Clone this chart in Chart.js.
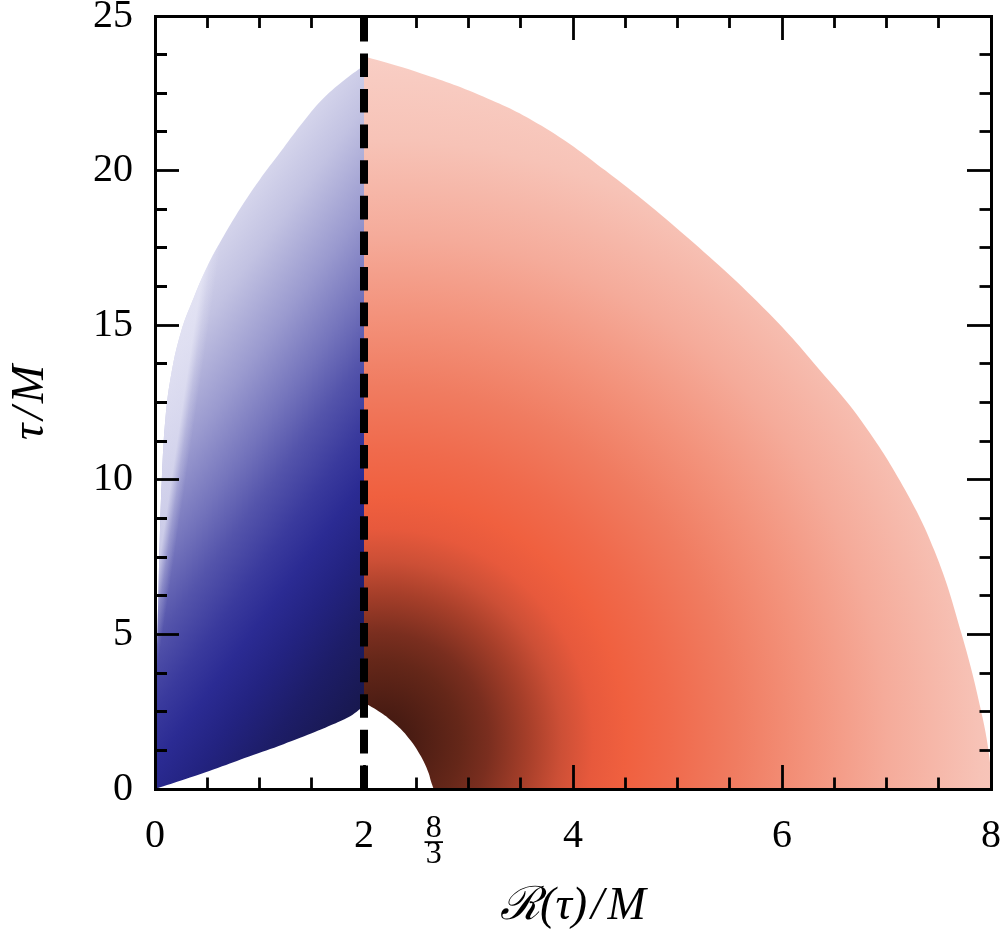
<!DOCTYPE html>
<html>
<head>
<meta charset="utf-8">
<script src="https://cdn.jsdelivr.net/npm/chart.js@4.4.1/dist/chart.umd.min.js"></script>
<style>
html,body{margin:0;padding:0;background:#ffffff;}
canvas{display:block;}
</style>
</head>
<body>
<canvas id="c" width="1000" height="948"></canvas>
<script>
// ---------------- data ----------------
const xRange = [0, 8];
const yRange = [0, 25];
const xMajorTicks = [0, 2, 4, 6, 8];
const yMajorTicks = [0, 5, 10, 15, 20, 25];
const xMinorStep = 0.5;
const yMinorStep = 1.25;
const fractionTickValue = 8 / 3;
const fractionTickLabel = ['8', '3'];
const fractionBarLabel = '\u2013';
const dividerX = 2;

// blue region: left/upper edge from the origin up to the divider
const blueLeftX = [0, 0.005, 0.015, 0.03, 0.045, 0.065, 0.1, 0.16, 0.25, 0.36, 0.5, 0.66, 0.82, 1.0, 1.2, 1.4, 1.6, 1.8, 2.0];
const blueLeftY = [0, 2, 4, 6, 8, 10, 12, 13.5, 14.8, 15.8, 16.9, 17.9, 18.8, 19.7, 20.6, 21.5, 22.3, 22.9, 23.4];
// blue region: lower edge from the origin to the divider
const blueLowerX = [0, 0.3, 0.6, 0.9, 1.23, 1.5, 1.71, 1.85, 1.93, 2.0];
const blueLowerY = [0, 0.33, 0.68, 1.05, 1.45, 1.8, 2.1, 2.32, 2.5, 2.7];

// red region: inner (hole) edge from R=8/3 on the axis up to the divider
const redInnerX = [2.667, 2.64, 2.62, 2.57, 2.52, 2.45, 2.35, 2.23, 2.1, 2.0];
const redInnerY = [0, 0.26, 0.5, 0.9, 1.2, 1.55, 1.95, 2.3, 2.6, 2.8];
// red region: outer edge from the divider down to R=8
const redOuterX = [2.0, 2.5, 3.14, 3.7, 4.31, 5.09, 5.87, 6.45, 6.76, 7.13, 7.46, 7.72, 7.92, 8.0, 8.0];
const redOuterY = [23.7, 23.2, 22.4, 21.45, 20.0, 17.85, 15.4, 13.2, 11.9, 9.96, 7.7, 5.0, 2.3, 0.6, 0];

// ---------------- build shapes ----------------
function pts(xs, ys) { return xs.map((x, i) => ({x: x, y: ys[i]})); }
const blueLeft = pts(blueLeftX, blueLeftY);
const blueLower = pts(blueLowerX, blueLowerY);
const blueShape = [...blueLeft, {...blueLeft[blueLeft.length - 1]},
  {...blueLower[blueLower.length - 1]}, ...blueLower.slice().reverse()];

const redInner = pts(redInnerX, redInnerY);
const redOuter = pts(redOuterX, redOuterY);
const redShape = [...redInner, {...redInner[redInner.length - 1]},
  {...redOuter[0]}, ...redOuter];

// ---------------- styles ----------------
const SERIF = "'Liberation Serif', 'Times New Roman', 'DejaVu Serif', serif";

function addStops(g, stops) { stops.forEach(s => g.addColorStop(s[0], s[1])); return g; }

function redFill(ctx) {
  const chart = ctx.chart;
  if (!chart.chartArea) return 'rgba(0,0,0,0)';
  const xs = chart.scales.x, ys = chart.scales.y;
  const cx = xs.getPixelForValue(2.16), cy = ys.getPixelForValue(1.55);
  const R = xs.getPixelForValue(2.16 + 6.9) - cx;
  const g = chart.ctx.createRadialGradient(cx, cy, 0, cx, cy, R);
  const k = 1 / 720;
  return addStops(g, [
    [0, '#3e170f'], [30 * k, '#4a1c13'], [80 * k, '#652719'], [108 * k, '#7a2e1f'],
    [148 * k, '#a73f2a'], [180 * k, '#cc4f36'], [212 * k, '#e7593c'], [245 * k, '#f0603f'],
    [290 * k, '#f06a4c'], [355 * k, '#f07c61'], [425 * k, '#f3927b'], [505 * k, '#f5ab9a'],
    [600 * k, '#f7c3b7'], [1, '#f9d3cb']
  ]);
}

function blueFill(ctx) {
  const chart = ctx.chart;
  if (!chart.chartArea) return 'rgba(0,0,0,0)';
  const xs = chart.scales.x, ys = chart.scales.y;
  const x0 = xs.getPixelForValue(0.833), y0 = ys.getPixelForValue(19.77);
  const x1 = xs.getPixelForValue(4.15), y1 = ys.getPixelForValue(11.54);
  const g = chart.ctx.createLinearGradient(x0, y0, x1, y1);
  return addStops(g, [
    [0, '#dcdcef'], [0.13, '#c2c2e2'], [0.27, '#9a9acf'], [0.385, '#7474bc'],
    [0.475, '#5454ab'], [0.57, '#3a3a9d'], [0.645, '#2b2b93'], [0.73, '#232381'],
    [0.83, '#1d1d68'], [0.93, '#191953'], [1, '#161645']
  ]);
}

function blueEdgeFill(ctx) {
  const chart = ctx.chart;
  if (!chart.chartArea) return 'rgba(0,0,0,0)';
  const xs = chart.scales.x, ys = chart.scales.y;
  const x0 = xs.getPixelForValue(-0.02), y0 = ys.getPixelForValue(6.0);
  const g = chart.ctx.createLinearGradient(x0, y0, x0 + 14 * 0.989, y0 + 14 * 0.148);
  return addStops(g, [
    [0, 'rgba(235,235,248,0.7)'], [0.5, 'rgba(235,235,248,0.25)'], [1, 'rgba(235,235,248,0)']
  ]);
}

function near(v, step) { return Math.abs(v / step - Math.round(v / step)) < 1e-6; }

// minor ticks: draw only the part next to the frame
function gridFor(position, majorStep) {
  const startsAtBorder = (position === 'bottom' || position === 'right');
  return {
    display: true,
    drawOnChartArea: false,
    drawTicks: true,
    tickLength: -24,
    tickColor: '#000',
    z: 1,
    tickWidth: (c) => (c.tick && c.tick.kind) ? 0 : 2.8,
    tickBorderDash: (c) => {
      if (!c.tick || near(c.tick.value, majorStep)) return [];
      return startsAtBorder ? [13.5, 100] : [0, 12, 13.5, 100];
    }
  };
}
const border = {display: true, color: '#000', width: 3, z: 1};
function noPad(s) { s.paddingTop = 0; s.paddingBottom = 0; s.paddingLeft = 0; s.paddingRight = 0; }

const chart = new Chart(document.getElementById('c'), {
  type: 'line',
  data: {
    datasets: [
      {label: 'divider', data: [{x: dividerX, y: yRange[0]}, {x: dividerX, y: yRange[1]}],
        borderColor: '#000', borderWidth: 8, borderDash: [23.6, 12], borderCapStyle: 'butt',
        pointRadius: 0, fill: false, tension: 0, order: 0},
      {label: 'blueEdge', data: blueShape, fill: 'shape', backgroundColor: blueEdgeFill,
        borderWidth: 0, pointRadius: 0, tension: 0.4, order: 1},
      {label: 'blue', data: blueShape, fill: 'shape', backgroundColor: blueFill,
        borderWidth: 0, pointRadius: 0, tension: 0.4, order: 2},
      {label: 'red', data: redShape, fill: 'shape', backgroundColor: redFill,
        borderWidth: 0, pointRadius: 0, tension: 0.4, order: 3}
    ]
  },
  options: {
    responsive: false,
    animation: false,
    events: [],
    layout: {padding: 0},
    plugins: {legend: {display: false}, tooltip: {enabled: false}},
    scales: {
      x: {
        type: 'linear', position: 'bottom', min: xRange[0], max: xRange[1],
        grid: gridFor('bottom', 2), border: border,
        afterBuildTicks: (s) => {
          s.ticks.push({value: fractionTickValue, kind: 'frac'}, {value: fractionTickValue, kind: 'bar'});
        },
        afterFit: (s) => { s.height = 159; noPad(s); },
        ticks: {
          stepSize: xMinorStep, autoSkip: false, maxRotation: 0, minRotation: 0,
          padding: 51, color: '#000',
          font: (c) => {
            const t = c.tick;
            if (t && t.kind === 'frac') return {family: SERIF, size: 32, lineHeight: '26px'};
            if (t && t.kind === 'bar') return {family: SERIF, size: 36, lineHeight: '52px'};
            return {family: SERIF, size: 40, lineHeight: '40px'};
          },
          callback: function (value, index, ticks) {
            const t = ticks[index];
            if (t.kind === 'frac') return fractionTickLabel;
            if (t.kind === 'bar') return fractionBarLabel;
            return xMajorTicks.includes(value) ? String(value) : '';
          }
        },
        title: {display: true, text: '\u211B(\u03C4)\u200A/\u200AM', color: '#000',
          font: {family: SERIF, size: 46, style: 'italic', lineHeight: 1.2},
          padding: {top: 0, bottom: 13}}
      },
      x2: {
        type: 'linear', position: 'top', min: xRange[0], max: xRange[1],
        grid: gridFor('top', 2), border: border,
        afterFit: (s) => { s.height = 16; noPad(s); },
        ticks: {stepSize: xMinorStep, display: false, autoSkip: false}
      },
      y: {
        type: 'linear', position: 'left', min: yRange[0], max: yRange[1],
        grid: gridFor('left', 5), border: border,
        afterFit: (s) => { s.width = 155; noPad(s); },
        ticks: {
          stepSize: yMinorStep, autoSkip: false, padding: 46, color: '#000',
          font: {family: SERIF, size: 40, lineHeight: '40px'},
          callback: (value) => yMajorTicks.includes(value) ? String(value) : ''
        },
        title: {display: true, text: '\u03C4\u200A/\u200AM', color: '#000',
          font: {family: SERIF, size: 46, style: 'italic', lineHeight: 1.2},
          padding: {top: 3, bottom: 0}}
      },
      y2: {
        type: 'linear', position: 'right', min: yRange[0], max: yRange[1],
        grid: gridFor('right', 5), border: border,
        afterFit: (s) => { s.width = 9; noPad(s); },
        ticks: {stepSize: yMinorStep, display: false, autoSkip: false}
      }
    }
  }
});
</script>
</body>
</html>
